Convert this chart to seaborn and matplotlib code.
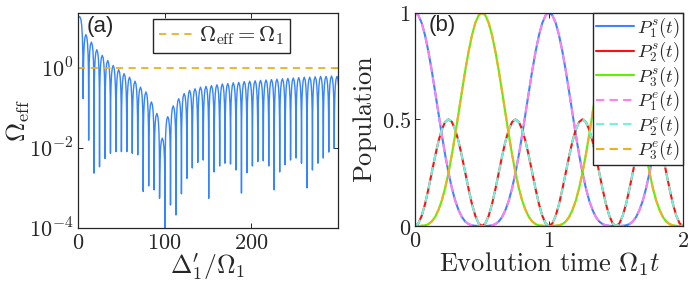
import numpy as np
import matplotlib
matplotlib.use("Agg")
import matplotlib.pyplot as plt
import seaborn as sns

# ---------------- panel (a) data ----------------
# positions of the dips of Omega_eff (units of Omega_1)
dip_x = [6.3, 12.6, 18.8, 25.1, 31.4, 37.7, 44.0, 50.3, 56.5, 62.8,
         69.1, 75.4, 81.7, 88.0, 94.2, 100.5, 106.8, 113.1, 119.4, 125.7,
         131.9, 138.2, 144.5, 150.8, 157.1, 163.4, 169.6, 175.9, 182.2, 188.5,
         194.8, 201.1, 207.3, 213.6, 219.9, 226.2, 232.5, 238.8, 245.0, 251.3,
         257.6, 263.9, 270.2, 276.5, 282.7, 289.0, 295.3]
# log10 of the value at the bottom of each dip
dip_log = [-0.76, -1.80, -2.63, -2.47, -2.26, -2.13, -2.09, -2.09, -2.09, -2.13,
           -2.17, -3.09, -2.95, -3.05, -3.26, -4.60, -3.43, -3.68, -3.15, -2.76,
           -2.50, -2.36, -2.30, -3.26, -2.60, -2.45, -2.38, -2.40, -2.55, -3.13,
           -2.62, -2.45, -2.34, -2.32, -2.45, -3.05, -2.60, -2.42, -2.30, -2.25,
           -2.38, -3.00, -2.55, -2.38, -2.25, -2.10, -2.00]
# log10 of the top of the arch that follows each dip
arch_top_log = [0.85, 0.66, 0.47, 0.33, 0.20, 0.075, -0.03, -0.13, -0.22, -0.32,
                -0.47, -0.59, -0.84, -1.13, -1.75, -1.21, -0.94, -0.76, -0.63, -0.55,
                -0.51, -0.47, -0.45, -0.43, -0.41, -0.39, -0.38, -0.36, -0.35, -0.33,
                -0.32, -0.31, -0.30, -0.29, -0.28, -0.27, -0.26, -0.25, -0.24, -0.23,
                -0.22, -0.22, -0.21, -0.20, -0.20, -0.19, -0.20]
# first arch, before the first dip
arch0_x = [0.0, 1.2, 2.4, 3.6, 4.6, 5.4, 5.9]
arch0_log = [1.22, 1.29, 1.30, 1.24, 1.08, 0.78, 0.35]
# shape of one arch: fraction across the arch, decades below its top
arch_frac = [0.015, 0.04, 0.1, 0.2, 0.32, 0.5, 0.68, 0.8, 0.9, 0.96, 0.985]
arch_drop = [-1.33, -0.90, -0.51, -0.23, -0.074, 0.0, -0.074, -0.23, -0.51, -0.90, -1.33]

omega_ref = 1.0

# ---------------- panel (b) data ----------------
t_vals = np.linspace(0, 2, 81)
P1 = [1.000, 0.988, 0.952, 0.894, 0.818, 0.729, 0.630, 0.529, 0.428, 0.334, 0.250,
      0.178, 0.119, 0.075, 0.042, 0.021, 0.009, 0.003, 0.001, 0.000, 0.000,
      0.000, 0.001, 0.003, 0.009, 0.021, 0.042, 0.075, 0.119, 0.178, 0.250,
      0.334, 0.428, 0.529, 0.630, 0.729, 0.818, 0.894, 0.952, 0.988, 1.000,
      0.988, 0.952, 0.894, 0.818, 0.729, 0.630, 0.529, 0.428, 0.334, 0.250,
      0.178, 0.119, 0.075, 0.042, 0.021, 0.009, 0.003, 0.001, 0.000, 0.000,
      0.000, 0.001, 0.003, 0.009, 0.021, 0.042, 0.075, 0.119, 0.178, 0.250,
      0.334, 0.428, 0.529, 0.630, 0.729, 0.818, 0.894, 0.952, 0.988, 1.000]
P2 = [0.000, 0.012, 0.048, 0.103, 0.173, 0.250, 0.327, 0.397, 0.452, 0.488, 0.500,
      0.488, 0.452, 0.397, 0.327, 0.250, 0.173, 0.103, 0.048, 0.012, 0.000,
      0.012, 0.048, 0.103, 0.173, 0.250, 0.327, 0.397, 0.452, 0.488, 0.500,
      0.488, 0.452, 0.397, 0.327, 0.250, 0.173, 0.103, 0.048, 0.012, 0.000,
      0.012, 0.048, 0.103, 0.173, 0.250, 0.327, 0.397, 0.452, 0.488, 0.500,
      0.488, 0.452, 0.397, 0.327, 0.250, 0.173, 0.103, 0.048, 0.012, 0.000,
      0.012, 0.048, 0.103, 0.173, 0.250, 0.327, 0.397, 0.452, 0.488, 0.500,
      0.488, 0.452, 0.397, 0.327, 0.250, 0.173, 0.103, 0.048, 0.012, 0.000]
P3 = [0.000, 0.000, 0.001, 0.003, 0.009, 0.021, 0.042, 0.075, 0.119, 0.178, 0.250,
      0.334, 0.428, 0.529, 0.630, 0.729, 0.818, 0.894, 0.952, 0.988, 1.000,
      0.988, 0.952, 0.894, 0.818, 0.729, 0.630, 0.529, 0.428, 0.334, 0.250,
      0.178, 0.119, 0.075, 0.042, 0.021, 0.009, 0.003, 0.001, 0.000, 0.000,
      0.000, 0.001, 0.003, 0.009, 0.021, 0.042, 0.075, 0.119, 0.178, 0.250,
      0.334, 0.428, 0.529, 0.630, 0.729, 0.818, 0.894, 0.952, 0.988, 1.000,
      0.988, 0.952, 0.894, 0.818, 0.729, 0.630, 0.529, 0.428, 0.334, 0.250,
      0.178, 0.119, 0.075, 0.042, 0.021, 0.009, 0.003, 0.001, 0.000, 0.000]

sim_labels = [r"$P_1^s(t)$", r"$P_2^s(t)$", r"$P_3^s(t)$"]
exact_labels = [r"$P_1^e(t)$", r"$P_2^e(t)$", r"$P_3^e(t)$"]
sim_colors = ["#3b86ff", "#ff1010", "#5fef00"]
exact_colors = ["#ff80f4", "#6ff5dc", "#edb120"]

# ---------------- style ----------------
sns.set_style("ticks")
plt.rcParams["font.family"] = ["DejaVu Serif"]
plt.rcParams["mathtext.fontset"] = "cm"
axc = "#262626"

fig = plt.figure(figsize=(6.92, 2.83), dpi=100)
ax1 = fig.add_axes([0.1123, 0.1954, 0.3766, 0.7597])
ax2 = fig.add_axes([0.5997, 0.2014, 0.3873, 0.7537])

# build the Omega_eff curve from the read values
xs = list(arch0_x)
ys = list(arch0_log)
for k in range(len(dip_x)):
    left = dip_x[k]
    right = dip_x[k + 1] if k + 1 < len(dip_x) else dip_x[k] + (dip_x[k] - dip_x[k - 1])
    xs.append(left)
    ys.append(dip_log[k])
    for f, d in zip(arch_frac, arch_drop):
        xs.append(left + f * (right - left))
        ys.append(arch_top_log[k] + d)
ys = np.power(10.0, ys)

sns.lineplot(x=xs, y=ys, ax=ax1, color="#3483ff", linewidth=1.0,
             estimator=None, sort=False)
ax1.axhline(omega_ref, color="#edb120", linewidth=1.3, linestyle=(0, (4, 3)),
            label=r"$\Omega_{\rm eff}=\Omega_1$")
ax1.set_yscale("log")
ax1.set_xlim(0, 300)
ax1.set_ylim(1e-4, 10 ** 1.4)
ax1.set_xticks([0, 100, 200])
ax1.set_xticklabels([r"$0$", r"$100$", r"$200$"])
ax1.set_yticks([1e-4, 1e-2, 1])
ax1.set_yticklabels([r"$10^{-4}$", r"$10^{-2}$", r"$10^{0}$"])
ax1.yaxis.set_minor_locator(matplotlib.ticker.NullLocator())
ax1.set_xlabel(r"$\Delta_1^\prime/\Omega_1$", fontsize=18.5, labelpad=-2)
ax1.set_ylabel(r"$\Omega_{\rm eff}$", fontsize=19, labelpad=-2)
ax1.text(0.036, 0.985, "(a)", transform=ax1.transAxes, ha="left", va="top",
         fontsize=16, family="Liberation Sans")
leg1 = ax1.legend(loc="upper right", bbox_to_anchor=(0.815, 0.971), fontsize=16,
                  handlelength=1.6, handletextpad=0.2, borderpad=0.25,
                  fancybox=False, framealpha=1, edgecolor=axc, borderaxespad=0)
leg1.get_frame().set_linewidth(1.0)

# panel (b)
for vals, lab, col in zip([P1, P2, P3], sim_labels, sim_colors):
    sns.lineplot(x=t_vals, y=vals, ax=ax2, color=col, linewidth=1.5, label=lab,
                 estimator=None)
for vals, lab, col in zip([P1, P2, P3], exact_labels, exact_colors):
    sns.lineplot(x=t_vals, y=vals, ax=ax2, color=col, linewidth=1.5, label=lab,
                 estimator=None, linestyle=(0, (4, 2.5)))
ax2.set_xlim(0, 2)
ax2.set_ylim(0, 1)
ax2.set_xticks([0, 1, 2])
ax2.set_xticklabels([r"$0$", r"$1$", r"$2$"])
ax2.set_yticks([0, 0.5, 1])
ax2.set_yticklabels([r"$0$", r"$0.5$", r"$1$"])
ax2.set_xlabel(r"$\mathrm{Evolution\ time}\ \Omega_1 t$", fontsize=19, labelpad=-1)
ax2.set_ylabel(r"$\mathrm{Population}$", fontsize=19, labelpad=2)
ax2.text(0.05, 0.99, "(b)", transform=ax2.transAxes, ha="left", va="top",
         fontsize=16, family="Liberation Sans")
leg2 = ax2.legend(loc="upper right", fontsize=13.5, handlelength=2.0,
                  handletextpad=0.2, borderpad=0.15, labelspacing=0.02,
                  fancybox=False, framealpha=1, edgecolor=axc, borderaxespad=0)
leg2.get_frame().set_linewidth(1.0)

for ax in (ax1, ax2):
    for s in ax.spines.values():
        s.set_color(axc)
        s.set_linewidth(0.9)
    ax.tick_params(direction="in", top=True, right=True, length=3.5, width=0.7,
                   colors=axc, labelsize=16, pad=3)
    ax.tick_params(which="minor", length=0)

fig.savefig("out.png", dpi=100)
